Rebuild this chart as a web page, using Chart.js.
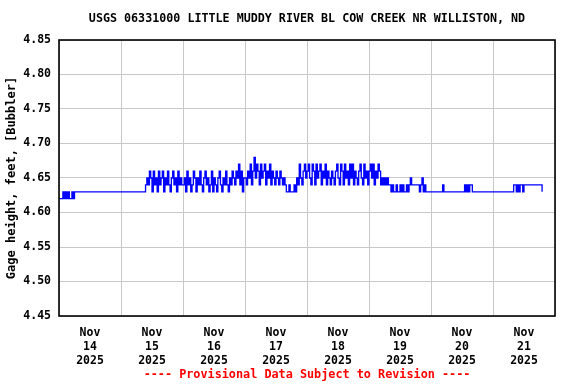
<!DOCTYPE html>
<html><head><meta charset="utf-8">
<script src="https://cdn.jsdelivr.net/npm/chart.js@4/dist/chart.umd.min.js"></script>
<style>html,body{margin:0;padding:0;background:#fff}#wrap{width:576px;height:384px}</style>
</head><body><div id="wrap"><canvas id="c" width="576" height="384"></canvas></div>
<script>
const chartTitle = 'USGS 06331000 LITTLE MUDDY RIVER BL COW CREEK NR WILLISTON, ND';
const yAxisTitle = 'Gage height, feet, [Bubbler]';
const footerText = '---- Provisional Data Subject to Revision ----';
const dayLabels = [
  ['Nov','14','2025'], ['Nov','15','2025'], ['Nov','16','2025'], ['Nov','17','2025'],
  ['Nov','18','2025'], ['Nov','19','2025'], ['Nov','20','2025'], ['Nov','21','2025']
];
const yMin = 4.45, yMax = 4.85, yStep = 0.05;
// readings every 30 minutes starting Nov 14 00:00
const intervalHours = 0.5;
const gageHeight = [
  // Nov 14
  4.62,4.62,4.62,4.63,4.62,4.63,4.62,4.63,4.62,4.62,4.63,4.62,
  4.63,4.63,4.63,4.63,4.63,4.63,4.63,4.63,4.63,4.63,4.63,4.63,
  4.63,4.63,4.63,4.63,4.63,4.63,4.63,4.63,4.63,4.63,4.63,4.63,
  4.63,4.63,4.63,4.63,4.63,4.63,4.63,4.63,4.63,4.63,4.63,4.63,
  // Nov 15
  4.63,4.63,4.63,4.63,4.63,4.63,4.63,4.63,4.63,4.63,4.63,4.63,
  4.63,4.63,4.63,4.63,4.63,4.63,4.63,4.64,4.65,4.64,4.66,4.65,
  4.63,4.66,4.64,4.65,4.63,4.66,4.64,4.65,4.66,4.63,4.65,4.64,
  4.66,4.64,4.63,4.65,4.66,4.64,4.65,4.63,4.66,4.64,4.65,4.64,
  // Nov 16
  4.64,4.65,4.63,4.66,4.64,4.65,4.63,4.64,4.66,4.65,4.63,4.65,
  4.64,4.66,4.64,4.63,4.65,4.66,4.64,4.65,4.63,4.64,4.66,4.63,
  4.65,4.64,4.63,4.65,4.66,4.64,4.63,4.65,4.64,4.66,4.64,4.63,
  4.65,4.64,4.66,4.65,4.64,4.66,4.65,4.67,4.64,4.66,4.63,4.65,
  // Nov 17
  4.65,4.64,4.66,4.65,4.67,4.64,4.66,4.68,4.65,4.67,4.66,4.64,
  4.67,4.65,4.66,4.67,4.64,4.66,4.65,4.67,4.64,4.66,4.65,4.64,
  4.66,4.65,4.64,4.66,4.65,4.64,4.65,4.64,4.63,4.63,4.64,4.63,
  4.63,4.63,4.64,4.63,4.65,4.64,4.67,4.65,4.64,4.66,4.67,4.65,
  // Nov 18
  4.66,4.67,4.65,4.64,4.67,4.66,4.64,4.67,4.65,4.66,4.67,4.64,
  4.66,4.65,4.67,4.64,4.66,4.65,4.64,4.66,4.65,4.64,4.66,4.67,
  4.65,4.64,4.67,4.66,4.64,4.67,4.65,4.66,4.64,4.67,4.65,4.67,
  4.64,4.66,4.65,4.64,4.66,4.67,4.65,4.64,4.67,4.65,4.66,4.64,
  // Nov 19
  4.66,4.67,4.65,4.67,4.64,4.66,4.65,4.67,4.66,4.64,4.65,4.64,
  4.65,4.64,4.65,4.64,4.64,4.63,4.64,4.63,4.63,4.64,4.63,4.63,
  4.64,4.63,4.64,4.63,4.63,4.64,4.63,4.64,4.65,4.64,4.64,4.64,
  4.64,4.64,4.64,4.63,4.64,4.65,4.63,4.64,4.63,4.63,4.63,4.63,
  // Nov 20
  4.63,4.63,4.63,4.63,4.63,4.63,4.63,4.63,4.63,4.64,4.63,4.63,
  4.63,4.63,4.63,4.63,4.63,4.63,4.63,4.63,4.63,4.63,4.63,4.63,
  4.63,4.63,4.64,4.63,4.64,4.63,4.64,4.64,4.63,4.63,4.63,4.63,
  4.63,4.63,4.63,4.63,4.63,4.63,4.63,4.63,4.63,4.63,4.63,4.63,
  // Nov 21
  4.63,4.63,4.63,4.63,4.63,4.63,4.63,4.63,4.63,4.63,4.63,4.63,
  4.63,4.63,4.63,4.63,4.64,4.64,4.63,4.64,4.63,4.64,4.64,4.63,
  4.64,4.64,4.64,4.64,4.64,4.64,4.64,4.64,4.64,4.64,4.64,4.64,
  4.64,4.64,4.63
];

const points = gageHeight.map((v, i) => ({ x: i * intervalHours, y: v }));
const FONT = "'DejaVu Sans Mono', 'Liberation Mono', monospace";

const framePlugin = {
  id: 'frame',
  afterDatasetsDraw(chart) {
    const { ctx, chartArea: a } = chart;
    ctx.save();
    ctx.strokeStyle = '#000';
    ctx.lineWidth = 1.6;
    ctx.strokeRect(a.left, a.top, a.right - a.left, a.bottom - a.top);
    ctx.restore();
  }
};

new Chart(document.getElementById('c'), {
  type: 'line',
  data: {
    datasets: [{
      data: points,
      borderColor: '#0000ff',
      borderWidth: 1.3,
      pointRadius: 0,
      stepped: true,
      fill: false,
      tension: 0
    }]
  },
  options: {
    responsive: false,
    animation: false,
    devicePixelRatio: 1,
    parsing: false,
    layout: { padding: { left: 0, right: 21, top: 0, bottom: 0 } },
    plugins: {
      legend: { display: false },
      tooltip: { enabled: false },
      title: {
        display: true, text: chartTitle, color: '#000', fullSize: false,
        font: { family: FONT, size: 11.7, weight: 'bold', lineHeight: 1.2 },
        padding: { top: 12, bottom: 13.96 }
      },
      subtitle: {
        display: true, text: footerText, color: '#ff0000', position: 'bottom', fullSize: false,
        font: { family: FONT, size: 11.8, weight: 'bold', lineHeight: 1.2 },
        padding: { top: 0, bottom: 2 }
      }
    },
    scales: {
      x: {
        type: 'linear',
        min: 0, max: dayLabels.length * 24,
        afterBuildTicks(scale) {
          scale.ticks = dayLabels.map((_, i) => ({ value: 12 + 24 * i }));
        },
        afterFit(scale) { scale.height = 51.84; },
        grid: { color: '#c8c8c8', lineWidth: 1, offset: true, drawTicks: false },
        border: { display: false },
        ticks: {
          autoSkip: false, maxRotation: 0, padding: 10, color: '#000',
          font: { family: FONT, size: 11.5, weight: 'bold', lineHeight: 1.22 },
          callback: (v, i) => dayLabels[i]
        }
      },
      y: {
        min: yMin, max: yMax,
        afterFit(scale) { scale.width = 59; },
        grid: { color: '#c8c8c8', lineWidth: 1, drawTicks: false },
        border: { display: false },
        ticks: {
          stepSize: yStep, padding: 8, color: '#000',
          font: { family: FONT, size: 11.5, weight: 'bold' },
          callback: v => Number(v).toFixed(2)
        },
        title: {
          display: true, text: yAxisTitle, color: '#000',
          font: { family: FONT, size: 12, weight: 'bold', lineHeight: 1.2 },
          padding: { top: 5, bottom: 0 }
        }
      }
    }
  },
  plugins: [framePlugin]
});
</script>
</body></html>
